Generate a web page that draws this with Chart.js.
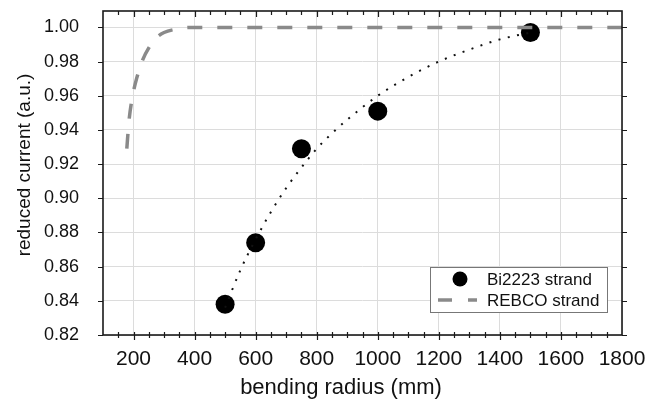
<!DOCTYPE html>
<html>
<head>
<meta charset="utf-8">
<script src="https://cdn.jsdelivr.net/npm/chart.js@4.4.0/dist/chart.umd.min.js"></script>
<style>
  html, body { margin: 0; padding: 0; background: #fff; }
  #wrap { width: 656px; height: 402px; }
</style>
</head>
<body>
<div id="wrap"><canvas id="chart"></canvas></div>
<script>
// measured points
const bi2223Radius = [500, 600, 750, 1000, 1500];
const bi2223Current = [0.838, 0.874, 0.929, 0.951, 0.997];

// dotted fit through the Bi2223 points
const fitRadius = [500, 550, 600, 650, 700, 750, 800, 850, 900, 1000, 1100, 1200, 1300, 1400, 1500];
const fitCurrent = [0.836, 0.858, 0.876, 0.892, 0.906, 0.918, 0.929, 0.938, 0.946, 0.960, 0.971, 0.980, 0.987, 0.993, 0.997];

// REBCO strand curve
const rebcoRadius = [178, 185, 195, 210, 230, 250, 275, 300, 340, 380, 450, 1800];
const rebcoCurrent = [0.929, 0.945, 0.958, 0.970, 0.981, 0.988, 0.994, 0.997, 0.999, 1.0, 1.0, 1.0];

const xTicks = [200, 400, 600, 800, 1000, 1200, 1400, 1600, 1800];
const yTicks = [0.82, 0.84, 0.86, 0.88, 0.90, 0.92, 0.94, 0.96, 0.98, 1.00];

const xTitle = 'bending radius (mm)';
const yTitle = 'reduced current (a.u.)';
const legendLabels = ['Bi2223 strand', 'REBCO strand'];

const FONT = "'Liberation Sans', Arial, sans-serif";
const GREY = '#8a8a8a';

function toPoints(xs, ys) {
    return xs.map((x, i) => ({ x: x, y: ys[i] }));
}

function noPad(s) {
    s.paddingTop = 0;
    s.paddingBottom = 0;
    s.paddingLeft = 0;
    s.paddingRight = 0;
}

// frame, minor ticks, axis titles and the boxed legend
const decorPlugin = {
    id: 'decor',
    afterDatasetsDraw(chart) {
        const { ctx, chartArea: a, scales: { x, y } } = chart;
        ctx.save();
        ctx.strokeStyle = '#1a1a1a';
        ctx.lineWidth = 1.2;
        ctx.beginPath();
        for (let v = 150; v <= 1750; v += 50) {
            const px = Math.round(x.getPixelForValue(v)) + 0.5;
            const major = xTicks.includes(v);
            ctx.moveTo(px, a.bottom + (major ? 5 : 3));
            ctx.lineTo(px, a.bottom - 3);
            ctx.moveTo(px, a.top);
            ctx.lineTo(px, a.top + (major ? 6 : 4));
        }
        yTicks.forEach(v => {
            const py = Math.round(y.getPixelForValue(v)) + 0.5;
            ctx.moveTo(a.left - 5, py);
            ctx.lineTo(a.left, py);
            ctx.moveTo(a.right, py);
            ctx.lineTo(a.right + 5, py);
        });
        ctx.stroke();
        ctx.lineWidth = 1.6;
        ctx.strokeRect(a.left, a.top, a.right - a.left, a.bottom - a.top);
        ctx.restore();
    },
    afterDraw(chart) {
        const { ctx } = chart;
        ctx.save();
        ctx.fillStyle = '#111';
        ctx.textAlign = 'center';
        ctx.textBaseline = 'middle';
        ctx.font = '22px ' + FONT;
        ctx.fillText(xTitle, 341, 388);
        ctx.translate(25, 165);
        ctx.rotate(-Math.PI / 2);
        ctx.font = '19px ' + FONT;
        ctx.fillText(yTitle, 0, 0);
        ctx.restore();

        // legend box
        ctx.save();
        ctx.fillStyle = '#fff';
        ctx.fillRect(430, 267, 177, 45);
        ctx.strokeStyle = '#777';
        ctx.lineWidth = 1;
        ctx.strokeRect(430.5, 267.5, 177, 45);
        ctx.fillStyle = '#000';
        ctx.beginPath();
        ctx.arc(460, 279, 7.5, 0, Math.PI * 2);
        ctx.fill();
        ctx.strokeStyle = GREY;
        ctx.lineWidth = 3.5;
        ctx.setLineDash([14, 16]);
        ctx.beginPath();
        ctx.moveTo(438, 300);
        ctx.lineTo(477, 300);
        ctx.stroke();
        ctx.setLineDash([]);
        ctx.fillStyle = '#111';
        ctx.font = '17px ' + FONT;
        ctx.textAlign = 'left';
        ctx.textBaseline = 'middle';
        ctx.fillText(legendLabels[0], 487, 280);
        ctx.fillText(legendLabels[1], 487, 301);
        ctx.restore();
    }
};

const ctx = document.getElementById('chart').getContext('2d');
new Chart(ctx, {
    type: 'scatter',
    data: {
        datasets: [
            {
                label: legendLabels[1],
                data: toPoints(rebcoRadius, rebcoCurrent),
                showLine: true,
                borderColor: GREY,
                borderWidth: 3.5,
                borderDash: [15, 15],
                cubicInterpolationMode: 'monotone',
                pointRadius: 0,
                fill: false
            },
            {
                label: 'fit',
                data: toPoints(fitRadius, fitCurrent),
                showLine: true,
                borderColor: '#111',
                borderWidth: 2,
                borderDash: [2, 7.5],
                cubicInterpolationMode: 'monotone',
                pointRadius: 0,
                fill: false
            },
            {
                label: legendLabels[0],
                data: toPoints(bi2223Radius, bi2223Current),
                backgroundColor: '#000',
                borderColor: '#000',
                pointRadius: 9.5,
                pointBorderWidth: 0
            }
        ]
    },
    options: {
        responsive: true,
        maintainAspectRatio: false,
        animation: false,
        layout: { padding: { top: 11, right: 34, left: 0, bottom: 0 } },
        plugins: {
            legend: { display: false },
            tooltip: { enabled: false }
        },
        scales: {
            x: {
                type: 'linear',
                min: 100,
                max: 1800,
                afterBuildTicks: s => { s.ticks = xTicks.map(v => ({ value: v })); },
                afterFit: s => { s.height = 67; noPad(s); },
                grid: { color: '#dcdcdc', lineWidth: 1, drawTicks: false },
                border: { display: false },
                ticks: {
                    padding: 12,
                    color: '#111',
                    font: { family: FONT, size: 21 },
                    maxRotation: 0,
                    callback: v => String(v)
                }
            },
            y: {
                type: 'linear',
                min: 0.82,
                max: 1.0096,
                afterBuildTicks: s => { s.ticks = yTicks.map(v => ({ value: v })); },
                afterFit: s => { s.width = 103; noPad(s); },
                grid: { color: '#dcdcdc', lineWidth: 1, drawTicks: false },
                border: { display: false },
                ticks: {
                    padding: 24,
                    color: '#111',
                    font: { family: FONT, size: 18 },
                    callback: v => v.toFixed(2)
                }
            }
        }
    },
    plugins: [decorPlugin]
});
</script>
</body>
</html>
